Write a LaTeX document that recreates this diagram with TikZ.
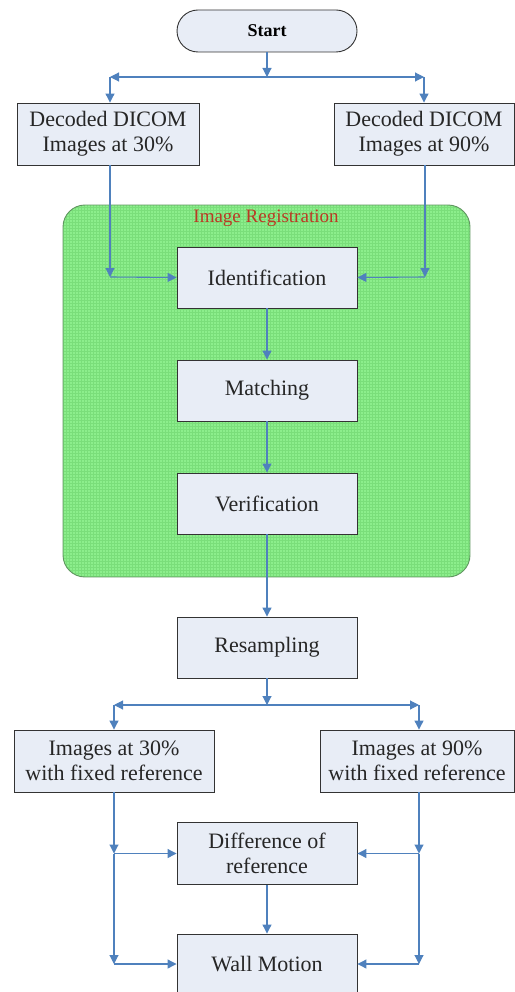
\documentclass[tikz,border=0pt]{standalone}
\usepackage{fontspec}
\setmainfont{Liberation Serif}
\usetikzlibrary{arrows.meta,shapes.misc}

\definecolor{boxfill}{RGB}{232,237,246}
\definecolor{flowblue}{RGB}{79,129,189}
\definecolor{regfill}{RGB}{140,238,140}
\definecolor{reggrid}{RGB}{122,222,122}
\definecolor{regedge}{RGB}{96,150,96}
\definecolor{regtext}{RGB}{186,58,36}

\tikzset{
  x=1pt, y=-1pt,
  procbox/.style={draw=black!80, line width=0.9pt, fill=boxfill,
    minimum height=62pt, align=center, inner sep=0pt,
    font=\fontsize{22}{25}\selectfont, text=black!85},
  flow/.style={draw=flowblue, line width=1.1pt,
    -{Triangle[length=9pt,width=9pt]}},
}

\begin{document}
\begin{tikzpicture}
\useasboundingbox (0,0) rectangle (514,992);

% image registration region with fine grid texture
\begin{scope}
  \path[clip] (63,205) [rounded corners=22pt] rectangle (470,577);
  \fill[regfill] (63,205) rectangle (470,577);
  \draw[reggrid, line width=0.35pt, step=3pt] (63,205) grid (470,577);
\end{scope}
\draw[regedge, line width=0.9pt, rounded corners=22pt] (63,205) rectangle (470,577);
\node[text=regtext, font=\fontsize{19}{22}\selectfont] (reglabel) at (266,218) {Image Registration};

% nodes
\node[draw=black!80, line width=0.9pt, fill=boxfill, rounded rectangle,
  minimum width=180pt, minimum height=42pt, inner sep=0pt,
  font=\bfseries\fontsize{18}{21}\selectfont] (start) at (267,31) {Start};

\node[procbox, minimum width=182pt] (dicomL) at (108,134) {Decoded DICOM\\Images at 30\%};
\node[procbox, minimum width=180pt] (dicomR) at (424,134) {Decoded DICOM\\Images at 90\%};

\node[procbox, minimum width=180pt, minimum height=61pt] (ident) at (267,277.5) {Identification};
\node[procbox, minimum width=180pt, minimum height=61pt] (match) at (267,390.5) {Matching};
\node[procbox, minimum width=180pt, minimum height=61pt] (verif) at (267,503.5) {Verification};
\node[procbox, minimum width=180pt, minimum height=61pt] (resamp) at (267,647.5) {Resampling};

\node[procbox, minimum width=200pt] (imgL) at (114,761) {Images at 30\%\\with fixed reference};
\node[procbox, minimum width=194pt] (imgR) at (417,761) {Images at 90\%\\with fixed reference};

\node[procbox, minimum width=180pt] (diff) at (267,853.5) {Difference of\\reference};
\node[procbox, minimum width=180pt, minimum height=60pt] (wall) at (267,964) {Wall Motion};

% junction points
\coordinate (splitA) at (267,77);
\coordinate (splitAL) at (110,77);
\coordinate (splitAR) at (424,77);
\coordinate (joinL) at (110,277);
\coordinate (joinR) at (425,277);
\coordinate (splitB) at (267,705);
\coordinate (splitBL) at (114,705);
\coordinate (splitBR) at (419,705);
\coordinate (diffL) at (114,853.5);
\coordinate (diffR) at (419,853.5);
\coordinate (wallL) at (114,964);
\coordinate (wallR) at (419,964);

% connectors
\draw[flow] (start) -- (splitA);
\draw[flow] (splitA) -- (splitAL);
\draw[flow] (splitA) -- (splitAR);
\draw[flow] (splitAL) -- (splitAL |- dicomL.north);
\draw[flow] (splitAR) -- (splitAR |- dicomR.north);

\draw[flow] (joinL |- dicomL.south) -- (joinL);
\draw[flow] (joinL) -- (ident.west);
\draw[flow] (joinR |- dicomR.south) -- (joinR);
\draw[flow] (joinR) -- (ident.east);

\draw[flow] (ident) -- (match);
\draw[flow] (match) -- (verif);
\draw[flow] (verif) -- (resamp);

\draw[flow] (resamp) -- (splitB);
\draw[flow] (splitB) -- (splitBL);
\draw[flow] (splitB) -- (splitBR);
\draw[flow] (splitBL) -- (splitBL |- imgL.north);
\draw[flow] (splitBR) -- (splitBR |- imgR.north);

\draw[flow] (diffL |- imgL.south) -- (diffL);
\draw[flow] (diffL) -- (wallL);
\draw[flow] (diffL) -- (diff.west);
\draw[flow] (wallL) -- (wall.west);
\draw[flow] (diffR |- imgR.south) -- (diffR);
\draw[flow] (diffR) -- (wallR);
\draw[flow] (diffR) -- (diff.east);
\draw[flow] (wallR) -- (wall.east);

\draw[flow] (diff) -- (wall);
\end{tikzpicture}
\end{document}
